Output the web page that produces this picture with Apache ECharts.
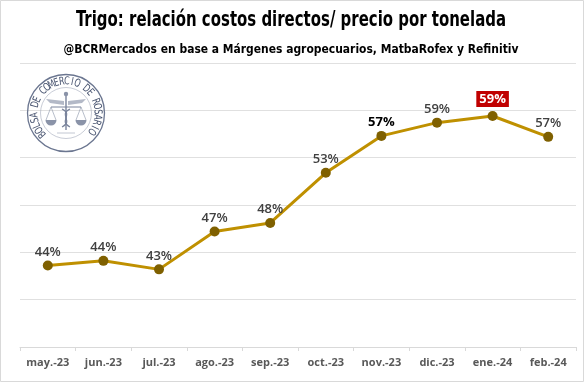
<!DOCTYPE html>
<html>
<head>
<meta charset="utf-8">
<script src="https://cdn.jsdelivr.net/npm/echarts@6/dist/echarts.min.js"></script>
<style>html,body{margin:0;padding:0;background:#fff}#c{width:584px;height:382px}</style>
</head>
<body>
<div id="c"></div>
<script>
var categories = ['may.-23','jun.-23','jul.-23','ago.-23','sep.-23','oct.-23','nov.-23','dic.-23','ene.-24','feb.-24'];
var ratioValues = [43.6, 44.1, 43.2, 47.2, 48.1, 53.4, 57.3, 58.7, 59.4, 57.2];
var yTicks = [35, 40, 45, 50, 55, 60, 65];
var titleText = 'Trigo: relación costos directos/ precio por tonelada';
var subtitleText = '@BCRMercados en base a Márgenes agropecuarios, MatbaRofex y Refinitiv';

var chart = echarts.init(document.getElementById('c'), null, {renderer:'canvas'});

var mctx = document.createElement('canvas').getContext('2d');
function fitScale(text, font, target){ mctx.font = font; return target / mctx.measureText(text).width; }

var titleFont = 'bold 21px "DejaVu Sans Condensed"';
var subFont = 'bold 13px "DejaVu Sans Condensed"';

var maxIdx = ratioValues.indexOf(Math.max.apply(null, ratioValues));
var data = ratioValues.map(function(v, i){
  var item = {value: v};
  if (i === maxIdx) {
    item.label = {color:'#fff', backgroundColor:'#C00000', fontWeight:'bold', padding:[2,3,1,3], distance:4};
  } else if (i === 6) {
    item.label = {color:'#000', fontWeight:'bold'};
  }
  return item;
});

// logo
var logoText = 'BOLSA DE COMERCIO DE ROSARIO';
var cx = 66, cy = 113, rText = 31.5;
var startA = -132, endA = 126;
var logoEls = [
  {type:'circle', shape:{cx:cx, cy:cy, r:38.5}, style:{fill:'none', stroke:'#6b7690', lineWidth:1.3}, z:1},
  {type:'circle', shape:{cx:cx, cy:cy, r:25.5}, style:{fill:'none', stroke:'#a3aabb', lineWidth:0.6}, z:1},
  {type:'line', shape:{x1:cx, y1:cy-20, x2:cx, y2:cy+17}, style:{stroke:'#7a849c', lineWidth:1.4}, z:1},
  {type:'circle', shape:{cx:cx, cy:cy-19, r:2.2}, style:{fill:'#8a93a8'}, z:1},
  {type:'polygon', shape:{points:[[cx-2,cy-12],[cx-20,cy-14],[cx-16,cy-10],[cx-2,cy-8]]}, style:{fill:'#b3b9c7'}, z:1},
  {type:'polygon', shape:{points:[[cx+2,cy-12],[cx+20,cy-14],[cx+16,cy-10],[cx+2,cy-8]]}, style:{fill:'#b3b9c7'}, z:1},
  {type:'line', shape:{x1:cx-15, y1:cy-6, x2:cx+15, y2:cy-6}, style:{stroke:'#7a849c', lineWidth:1}, z:1},
  {type:'polyline', shape:{points:[[cx-15,cy-6],[cx-20,cy+7]]}, style:{stroke:'#8a93a8', lineWidth:0.6}, z:1},
  {type:'polyline', shape:{points:[[cx-15,cy-6],[cx-10,cy+7]]}, style:{stroke:'#8a93a8', lineWidth:0.6}, z:1},
  {type:'polyline', shape:{points:[[cx+15,cy-6],[cx+10,cy+7]]}, style:{stroke:'#8a93a8', lineWidth:0.6}, z:1},
  {type:'polyline', shape:{points:[[cx+15,cy-6],[cx+20,cy+7]]}, style:{stroke:'#8a93a8', lineWidth:0.6}, z:1},
  {type:'sector', shape:{cx:cx-15, cy:cy+7, r:5.5, r0:0, startAngle:0, endAngle:Math.PI}, style:{fill:'#8a93a8'}, z:1},
  {type:'sector', shape:{cx:cx+15, cy:cy+7, r:5.5, r0:0, startAngle:0, endAngle:Math.PI}, style:{fill:'#8a93a8'}, z:1},
  {type:'bezierCurve', shape:{x1:cx-4, y1:cy-4, x2:cx+4, y2:cy+14, cpx1:cx+8, cpy1:cy+2, cpx2:cx-8, cpy2:cy+8}, style:{stroke:'#7a849c', lineWidth:1.2, fill:'none'}, z:1},
  {type:'bezierCurve', shape:{x1:cx+4, y1:cy-4, x2:cx-4, y2:cy+14, cpx1:cx-8, cpy1:cy+2, cpx2:cx+8, cpy2:cy+8}, style:{stroke:'#7a849c', lineWidth:1.2, fill:'none'}, z:1},
  {type:'line', shape:{x1:cx-9, y1:cy+20, x2:cx+9, y2:cy+20}, style:{stroke:'#b3b9c7', lineWidth:0.8}, z:1}
];
var n = logoText.length;
for (var i = 0; i < n; i++) {
  var a = (startA + (endA - startA) * i / (n - 1)) * Math.PI / 180;
  var x = cx + rText * Math.sin(a), y = cy - rText * Math.cos(a);
  logoEls.push({
    type:'text', x:x, y:y, rotation:-a, scaleX:0.8,
    style:{text:logoText[i], fill:'#47536f', font:'11px "DejaVu Sans Condensed"', align:'center', verticalAlign:'middle'},
    z:1
  });
}

var option = {
  animation:false,
  backgroundColor:'#ffffff',
  graphic:[
    {type:'rect', shape:{x:0.5, y:0.5, width:583, height:381}, style:{fill:'none', stroke:'#d9d9d9', lineWidth:1}, z:0},
    {type:'text', x:291, y:21, scaleX:fitScale(titleText, titleFont, 430),
      style:{text:titleText, font:titleFont, fill:'#000', align:'center', verticalAlign:'middle'}, z:2},
    {type:'text', x:291, y:50, scaleX:fitScale(subtitleText, subFont, 455),
      style:{text:subtitleText, font:subFont, fill:'#000', align:'center', verticalAlign:'middle'}, z:2},
    {type:'group', children:logoEls, z:1}
  ],
  grid:{left:20, right:8, top:63, bottom:35, containLabel:false},
  xAxis:{
    type:'category', data:categories, boundaryGap:true,
    axisLine:{lineStyle:{color:'#d9d9d9', width:1}},
    axisTick:{show:true, length:4, lineStyle:{color:'#d9d9d9'}},
    axisLabel:{interval:0, color:'#595959', fontFamily:'"Open Sans",sans-serif', fontWeight:'bold', fontSize:11, margin:10}
  },
  yAxis:{
    type:'value', min:yTicks[0], max:yTicks[yTicks.length-1], interval:yTicks[1]-yTicks[0],
    axisLabel:{show:false}, axisLine:{show:false}, axisTick:{show:false},
    splitLine:{lineStyle:{color:'#e0e0e0', width:1}}
  },
  series:[{
    type:'line', data:data, z:5,
    lineStyle:{color:'#BF9000', width:3},
    symbol:'circle', symbolSize:10,
    itemStyle:{color:'#7F6000', borderWidth:0},
    label:{show:true, position:'top', distance:2, formatter:function(p){return Math.round(p.value)+'%';},
      color:'#404040', fontFamily:'"Open Sans",sans-serif', fontWeight:600, fontSize:13}
  }]
};
chart.setOption(option);
</script>
</body>
</html>
